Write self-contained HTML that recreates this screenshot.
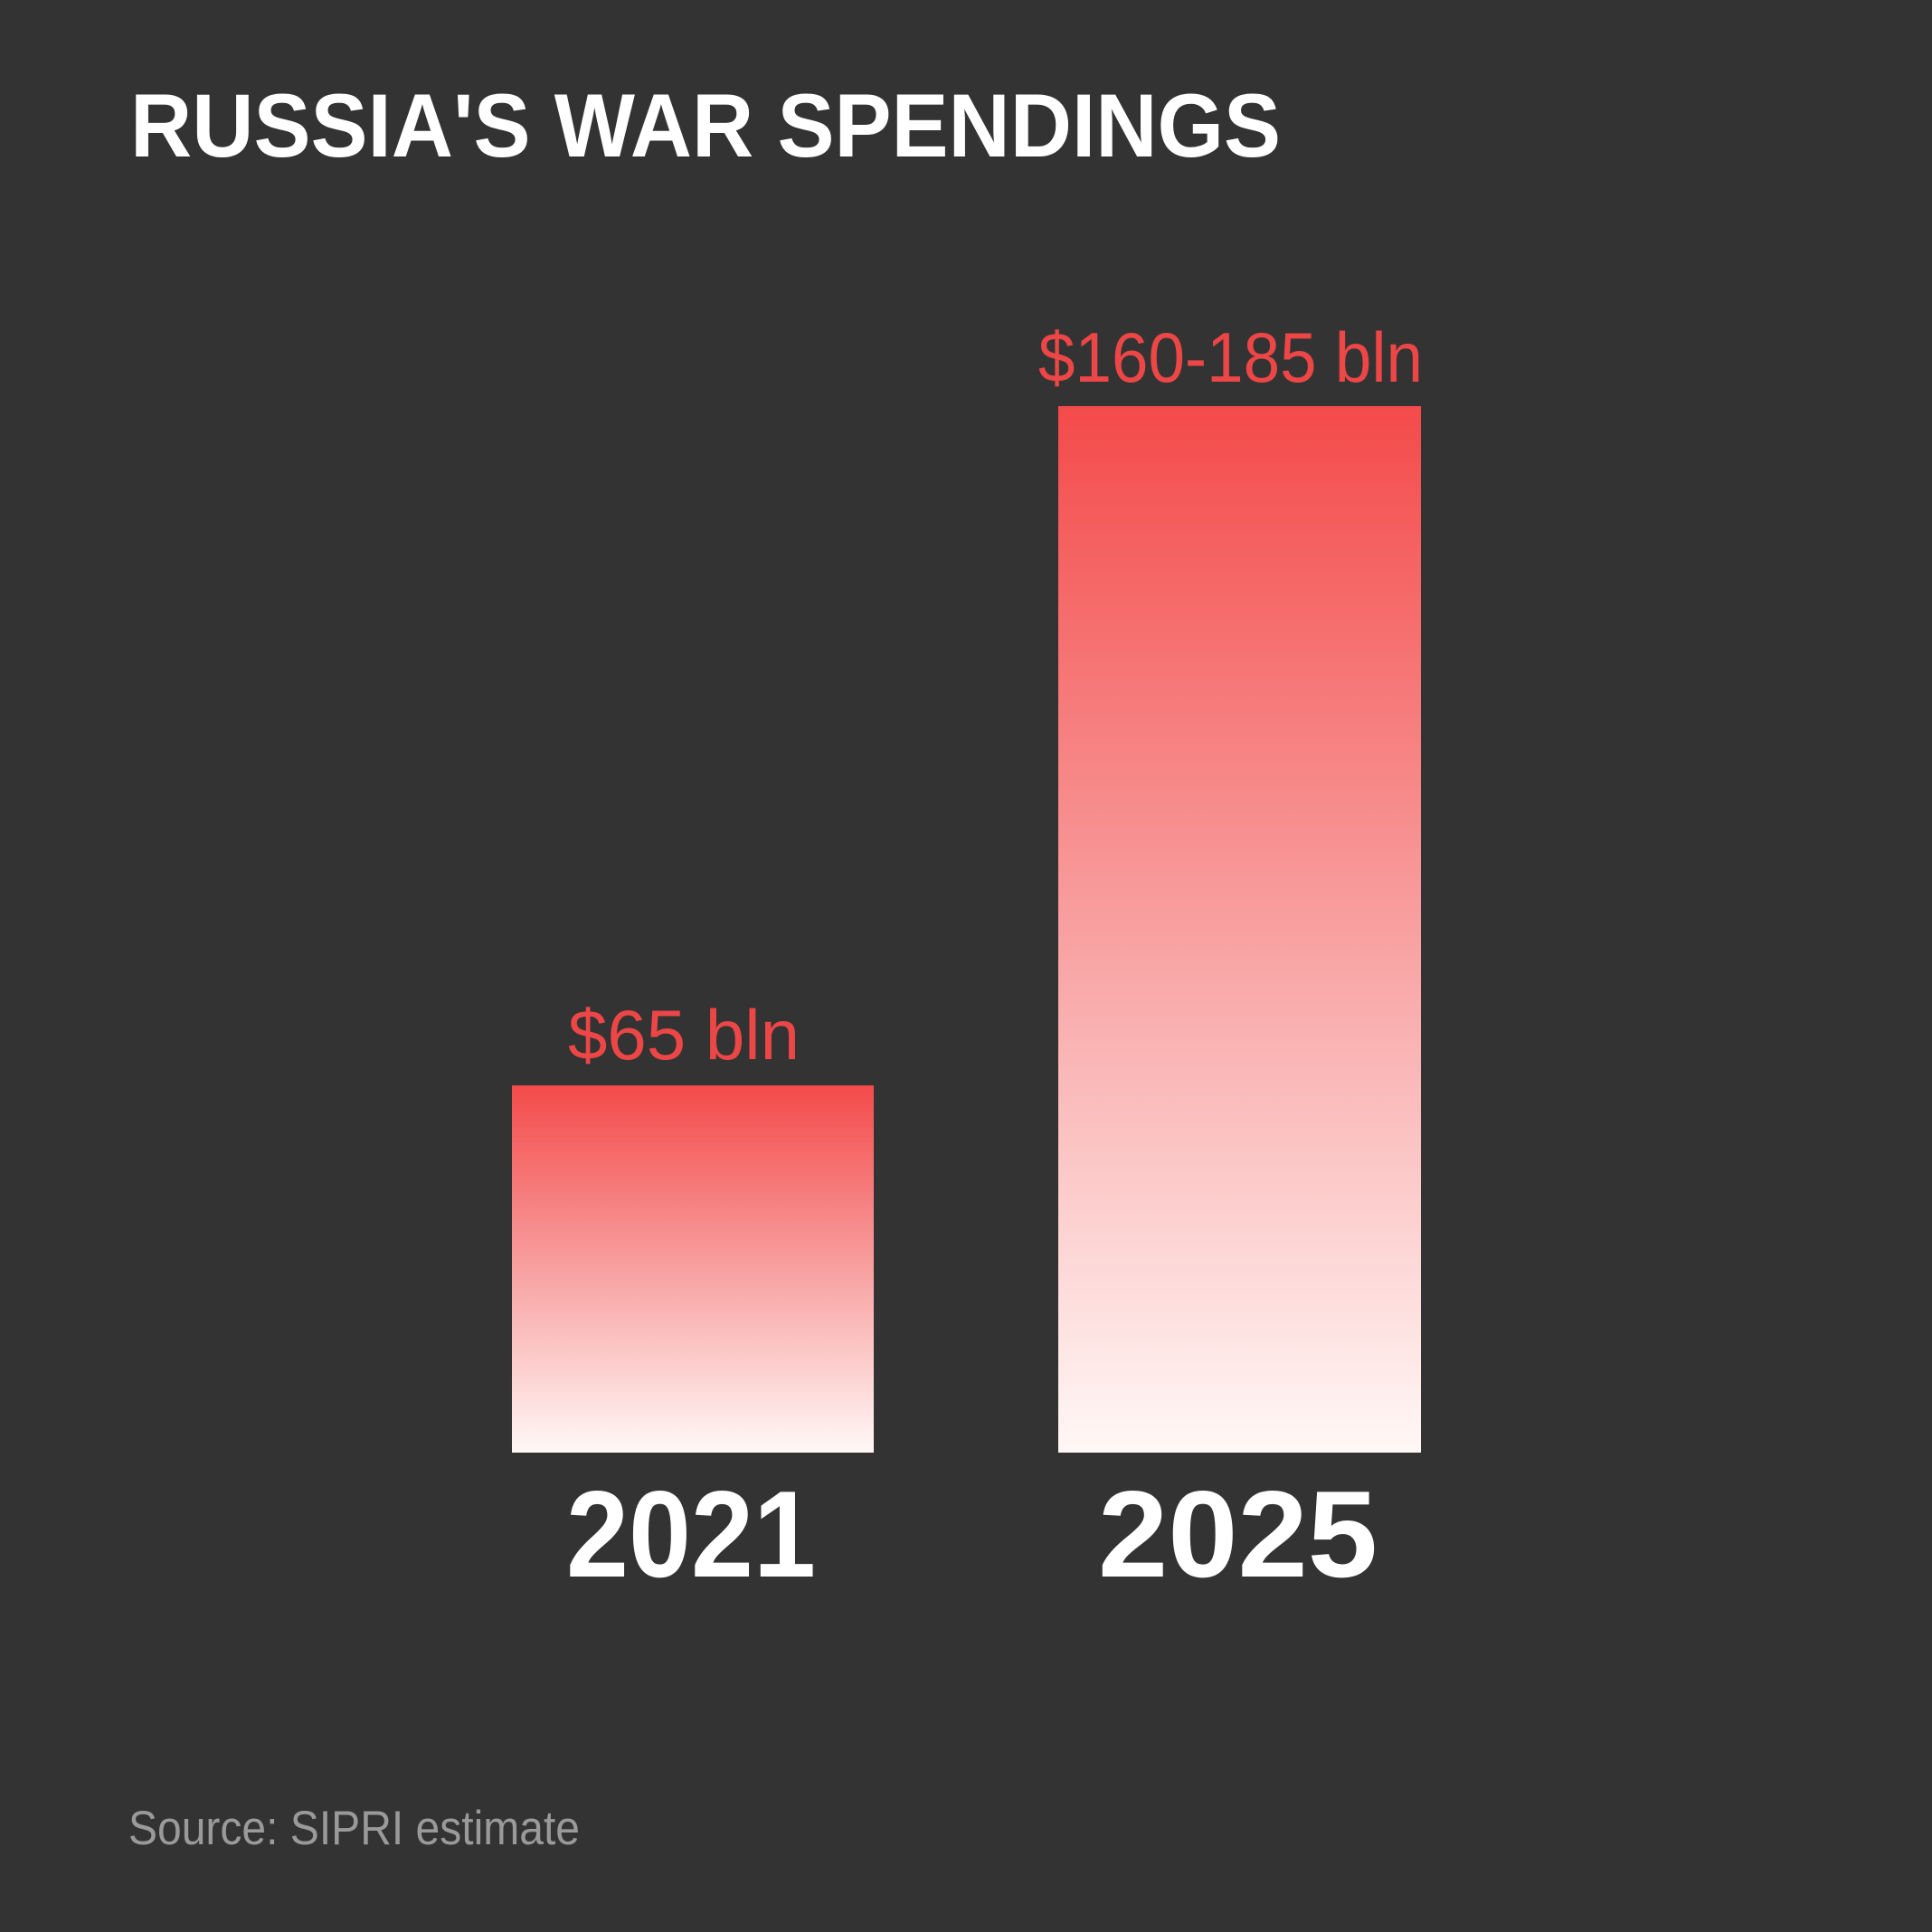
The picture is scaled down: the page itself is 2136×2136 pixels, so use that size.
<!DOCTYPE html>
<html><head><meta charset="utf-8"><style>
html,body{margin:0;padding:0;background:#333333;}
svg{display:block;}
</style></head><body>
<svg width="2136" height="2136" viewBox="0 0 2136 2136" xmlns="http://www.w3.org/2000/svg">
<defs>
<linearGradient id="g1" x1="0" y1="0" x2="0" y2="1">
<stop offset="0" stop-color="#f44a4a"/>
<stop offset="0.5" stop-color="#f8a0a0"/>
<stop offset="1" stop-color="#fff8f6"/>
</linearGradient>
</defs>
<rect width="2136" height="2136" fill="#333333"/>
<text x="144" y="173" font-family="Liberation Sans, sans-serif" font-weight="bold" font-size="99" fill="#ffffff" textLength="1272" lengthAdjust="spacingAndGlyphs">RUSSIA'S WAR SPENDINGS</text>
<rect x="566" y="1200" width="400" height="406" fill="url(#g1)"/>
<rect x="1170" y="449" width="401" height="1157" fill="url(#g1)"/>
<text x="628" y="1171" font-family="Liberation Sans, sans-serif" font-size="78" fill="#ec4646" textLength="256" lengthAdjust="spacingAndGlyphs">$65 bln</text>
<text x="1148" y="422" font-family="Liberation Sans, sans-serif" font-size="78" fill="#ec4646" textLength="425" lengthAdjust="spacingAndGlyphs">$160-185 bln</text>
<text x="626" y="1743" font-family="Liberation Sans, sans-serif" font-weight="bold" font-size="136" fill="#ffffff" textLength="276" lengthAdjust="spacingAndGlyphs">2021</text>
<text x="1214" y="1743" font-family="Liberation Sans, sans-serif" font-weight="bold" font-size="136" fill="#ffffff" textLength="309" lengthAdjust="spacingAndGlyphs">2025</text>
<text x="142" y="2039" font-family="Liberation Sans, sans-serif" font-size="53" fill="#9a9a9a" textLength="499" lengthAdjust="spacingAndGlyphs">Source: SIPRI estimate</text>
</svg>
</body></html>
